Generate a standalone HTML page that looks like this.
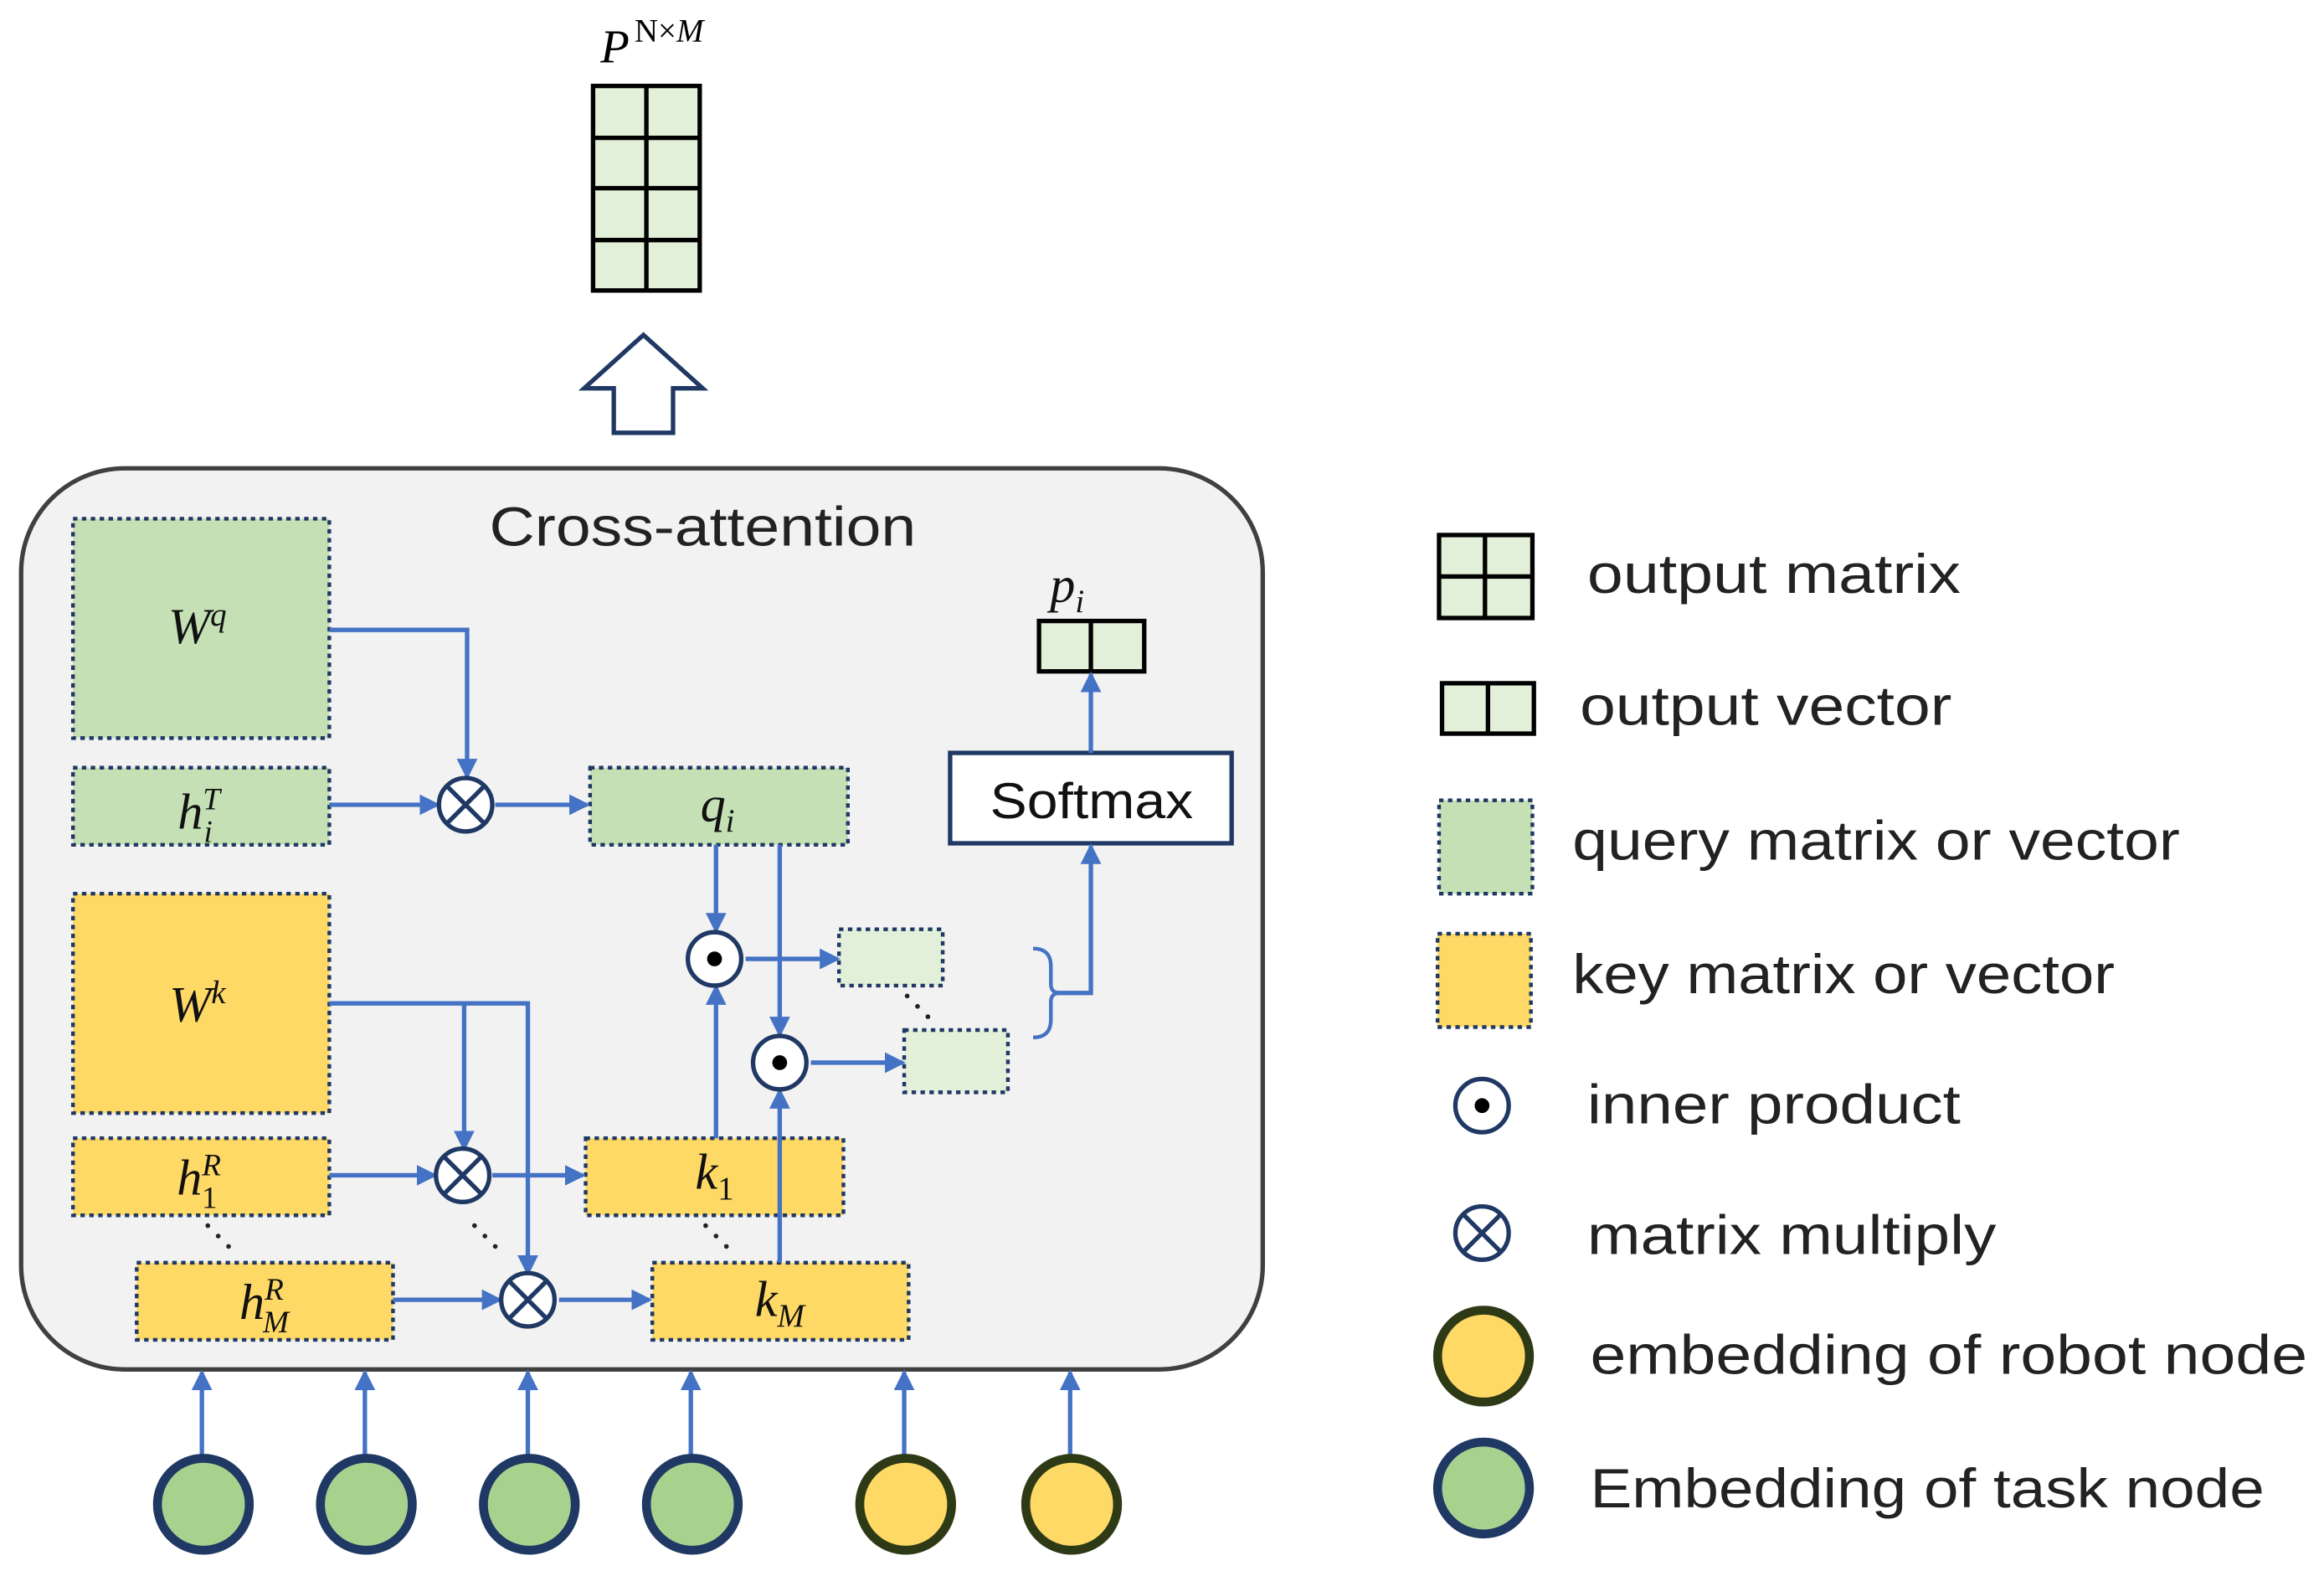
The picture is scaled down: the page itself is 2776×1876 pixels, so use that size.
<!DOCTYPE html>
<html><head><meta charset="utf-8"><style>html,body{margin:0;padding:0;background:#fff}svg{display:block}</style></head>
<body>
<svg width="2776" height="1876" viewBox="0 0 1568 1060" xmlns="http://www.w3.org/2000/svg" font-family="Liberation Sans, sans-serif">
<defs>
<marker id="a" markerWidth="14" markerHeight="14" refX="12" refY="7" orient="auto" markerUnits="userSpaceOnUse"><path d="M0,0 L14,7 L0,14 z" fill="#4472c4"/></marker>
</defs>
<!-- output matrix -->
<text x="405" y="42" font-family="Liberation Serif, serif" font-style="italic" font-size="32">P</text>
<text x="428" y="28" font-family="Liberation Serif, serif" font-size="22">N×<tspan font-style="italic">M</tspan></text>
<g stroke="#000" stroke-width="3" fill="#e2f0d9">
<rect x="400" y="58" width="72" height="138"/>
<line x1="436" y1="58" x2="436" y2="196"/>
<line x1="400" y1="93" x2="472" y2="93"/><line x1="400" y1="127" x2="472" y2="127"/><line x1="400" y1="162" x2="472" y2="162"/>
</g>
<path d="M434,226 L474,262 L454,262 L454,292 L414,292 L414,262 L394,262 z" fill="#fff" stroke="#1f3864" stroke-width="3"/>
<!-- main box -->
<rect x="14" y="316" width="838" height="608" rx="70" fill="#f2f2f2" stroke="#404040" stroke-width="3"/>
<text x="330" y="368" font-size="37" fill="#222" textLength="288" lengthAdjust="spacingAndGlyphs">Cross-attention</text>
<g stroke="#1f3864" stroke-width="2.5" stroke-dasharray="3,3">
<rect x="49" y="350" width="173" height="148" fill="#c5e0b4"/>
<rect x="49" y="518" width="173" height="52" fill="#c5e0b4"/>
<rect x="398" y="518" width="174" height="52" fill="#c5e0b4"/>
<rect x="49" y="603" width="173" height="148" fill="#ffd966"/>
<rect x="49" y="768" width="173" height="52" fill="#ffd966"/>
<rect x="92" y="852" width="173" height="52" fill="#ffd966"/>
<rect x="395" y="768" width="174" height="52" fill="#ffd966"/>
<rect x="440" y="852" width="173" height="52" fill="#ffd966"/>
<rect x="566" y="627" width="70" height="38" fill="#e2f0d9"/>
<rect x="610" y="695" width="70" height="42" fill="#e2f0d9"/>
</g>
<g font-family="Liberation Serif, serif" font-style="italic" font-size="34" fill="#111" text-anchor="middle">
<text x="133" y="434">W<tspan font-size="22" dy="-12">q</tspan></text>
<text x="134" y="559">h<tspan font-size="21" dy="-13">T</tspan><tspan font-size="21" dx="-11" dy="22">i</tspan></text>
<text x="484" y="554">q<tspan font-size="22" dy="7">i</tspan></text>
<text x="133" y="689">W<tspan font-size="22" dy="-12">k</tspan></text>
<text x="134" y="806">h<tspan font-size="21" dy="-13">R</tspan><tspan font-size="21" font-style="normal" dx="-13" dy="22">1</tspan></text>
<text x="178" y="890">h<tspan font-size="21" dy="-13">R</tspan><tspan font-size="21" dx="-14" dy="22">M</tspan></text>
<text x="482" y="802">k<tspan font-size="22" font-style="normal" dy="7">1</tspan></text>
<text x="526" y="888">k<tspan font-size="22" dy="7">M</tspan></text>
<text x="720" y="406">p<tspan font-size="22" dy="7">i</tspan></text>
</g>
<!-- pi vector -->
<g stroke="#000" stroke-width="3" fill="#e2f0d9"><rect x="701" y="419" width="71" height="34"/><line x1="736" y1="419" x2="736" y2="453"/></g>
<rect x="641" y="508" width="190" height="61" fill="#fff" stroke="#1f3864" stroke-width="3"/>
<text x="668" y="552" font-size="34" fill="#111" textLength="137" lengthAdjust="spacingAndGlyphs">Softmax</text>
<!-- arrows -->
<g stroke="#4472c4" stroke-width="3" fill="none" marker-end="url(#a)">
<path d="M222,425 H315 V524"/>
<path d="M222,543 H295"/>
<path d="M334,543 H396"/>
<path d="M222,677 H313 V775"/>
<path d="M313,677 H356 V859"/>
<path d="M222,793 H293"/>
<path d="M332,793 H393"/>
<path d="M265,877 H337"/>
<path d="M377,877 H438"/>
<path d="M483,570 V628"/>
<path d="M526,570 V698"/>
<path d="M483,768 V666"/>
<path d="M526,852 V736"/>
<path d="M503,647 H565"/>
<path d="M547,717 H609"/>
<path d="M736,508 V455"/>
<path d="M712,670 H736 V571"/>
<path d="M136,1000 V926"/><path d="M246,1000 V926"/><path d="M356,1000 V926"/><path d="M466,1000 V926"/><path d="M610,1000 V926"/><path d="M722,1000 V926"/>
</g>
<path d="M697,640 q12,0 12,12 v12 q0,6 6,6 q-6,0 -6,6 v12 q0,12 -12,12" fill="none" stroke="#4472c4" stroke-width="2.5"/>
<!-- dots -->
<g fill="#222"><circle cx="140" cy="827" r="1.6"/><circle cx="147" cy="834" r="1.6"/><circle cx="154" cy="841" r="1.6"/>
<circle cx="320" cy="827" r="1.6"/><circle cx="327" cy="834" r="1.6"/><circle cx="334" cy="841" r="1.6"/>
<circle cx="476" cy="827" r="1.6"/><circle cx="483" cy="834" r="1.6"/><circle cx="490" cy="841" r="1.6"/>
<circle cx="612" cy="672" r="1.6"/><circle cx="619" cy="679" r="1.6"/><circle cx="626" cy="686" r="1.6"/></g>
<!-- operators -->
<g stroke="#1f3864" stroke-width="3" fill="#fff">
<circle cx="314" cy="543" r="18"/><path d="M301,530 L327,556 M327,530 L301,556"/>
<circle cx="312" cy="793" r="18"/><path d="M299,780 L325,806 M325,780 L299,806"/>
<circle cx="356" cy="877" r="18"/><path d="M343,864 L369,890 M369,864 L343,890"/>
<circle cx="482" cy="647" r="18"/><circle cx="526" cy="717" r="18"/>
</g>
<circle cx="482" cy="647" r="5" fill="#000"/><circle cx="526" cy="717" r="5" fill="#000"/>
<!-- bottom nodes -->
<g stroke-width="6">
<circle cx="137" cy="1015" r="31" fill="#a9d18e" stroke="#1f3864"/>
<circle cx="247" cy="1015" r="31" fill="#a9d18e" stroke="#1f3864"/>
<circle cx="357" cy="1015" r="31" fill="#a9d18e" stroke="#1f3864"/>
<circle cx="467" cy="1015" r="31" fill="#a9d18e" stroke="#1f3864"/>
<circle cx="611" cy="1015" r="31" fill="#ffd966" stroke="#2e3a16"/>
<circle cx="723" cy="1015" r="31" fill="#ffd966" stroke="#2e3a16"/>
</g>
<!-- legend -->
<g stroke="#000" stroke-width="3" fill="#e2f0d9">
<rect x="971" y="361" width="63" height="56"/><line x1="1002" y1="361" x2="1002" y2="417"/><line x1="971" y1="389" x2="1034" y2="389"/>
<rect x="973" y="461" width="62" height="34"/><line x1="1004" y1="461" x2="1004" y2="495"/>
</g>
<rect x="971" y="540" width="63" height="63" fill="#c5e0b4" stroke="#1f3864" stroke-width="2.5" stroke-dasharray="3,3"/>
<rect x="970" y="630" width="63" height="63" fill="#ffd966" stroke="#1f3864" stroke-width="2.5" stroke-dasharray="3,3"/>
<circle cx="1000" cy="746" r="18" fill="#fff" stroke="#1f3864" stroke-width="3"/><circle cx="1000" cy="746" r="5" fill="#000"/>
<circle cx="1000" cy="832" r="18" fill="#fff" stroke="#1f3864" stroke-width="3"/><path d="M987,819 L1013,845 M1013,819 L987,845" stroke="#1f3864" stroke-width="3"/>
<circle cx="1001" cy="915" r="31" fill="#ffd966" stroke="#2e3a16" stroke-width="6"/>
<circle cx="1001" cy="1004" r="31" fill="#a9d18e" stroke="#1f3864" stroke-width="6"/>
<g font-size="37" fill="#222" lengthAdjust="spacingAndGlyphs">
<text x="1071" y="400" textLength="252" lengthAdjust="spacingAndGlyphs">output matrix</text>
<text x="1066" y="489" textLength="251" lengthAdjust="spacingAndGlyphs">output vector</text>
<text x="1061" y="580" textLength="410" lengthAdjust="spacingAndGlyphs">query matrix or vector</text>
<text x="1061" y="670" textLength="366" lengthAdjust="spacingAndGlyphs">key matrix or vector</text>
<text x="1071" y="758" textLength="252" lengthAdjust="spacingAndGlyphs">inner product</text>
<text x="1071" y="846" textLength="276" lengthAdjust="spacingAndGlyphs">matrix multiply</text>
<text x="1073" y="927" textLength="484" lengthAdjust="spacingAndGlyphs">embedding of robot node</text>
<text x="1073" y="1017" textLength="455" lengthAdjust="spacingAndGlyphs">Embedding of task node</text>
</g>
</svg>
</body></html>
